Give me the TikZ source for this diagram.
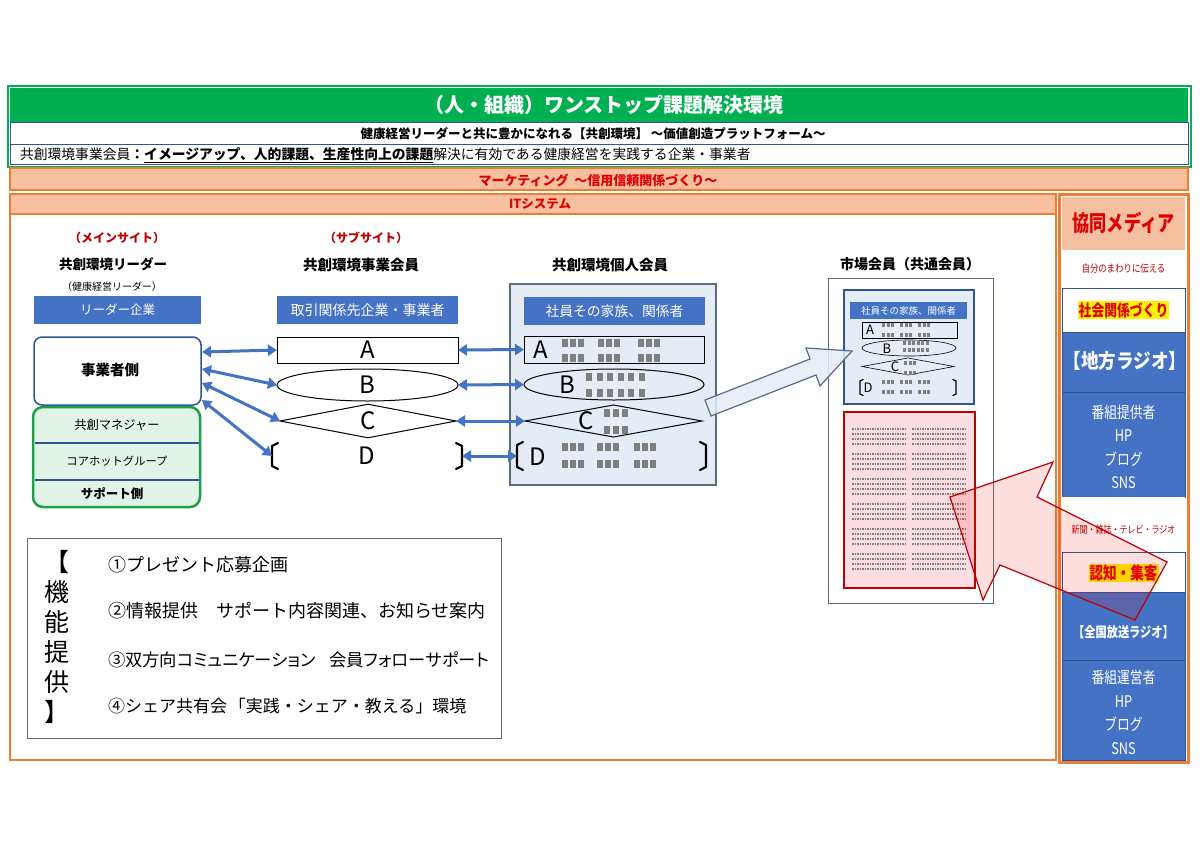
\documentclass[tikz,border=0pt]{standalone}
\usepackage{fontspec}
\setmainfont{Noto Sans CJK JP}
\newfontfamily\paltfont{Noto Sans CJK JP}[RawFeature=+palt]
\usetikzlibrary{shapes.geometric,arrows.meta,calc}
\definecolor{tgreen}{HTML}{00B050}
\definecolor{tggreen}{HTML}{1EA04A}
\definecolor{torange}{HTML}{ED7D31}
\definecolor{tpeach}{HTML}{F6C0A0}
\definecolor{tblue}{HTML}{4472C4}
\definecolor{tdblue}{HTML}{2F5597}
\definecolor{tgrayblue}{HTML}{5B6B82}
\definecolor{tred}{HTML}{E00000}
\definecolor{tdred}{HTML}{C00000}
\definecolor{tlblue}{HTML}{E6ECF6}
\definecolor{tlgreen}{HTML}{E2F3E8}
\definecolor{tpink}{HTML}{FBDDE2}
\definecolor{tppl}{HTML}{7F7F7F}
\newcommand\fsz[1]{\fontsize{#1}{#1}\selectfont}
\newcommand\cnd[1]{\scalebox{0.8}[1]{#1}}
\newcommand\dbrk[3]{%
 \draw[brk,line width=#3] ($(#1.north west)+(#2,0)$) -- ($(#1.north west)+(0,#2/2)$) -- ($(#1.south west)+(0,-#2/2)$) -- ($(#1.south west)+(#2,0)$);
 \draw[brk,line width=#3] ($(#1.north east)+(-#2,0)$) -- ($(#1.north east)+(0,#2/2)$) -- ($(#1.south east)+(0,-#2/2)$) -- ($(#1.south east)+(-#2,0)$);}
\setlength{\fboxsep}{1pt}
\begin{document}
\begin{tikzpicture}[x=1pt,y=-1pt,
  every node/.style={inner sep=0pt, outer sep=0pt},
  bar/.style={draw=torange, fill=tpeach, line width=2pt, anchor=north west, text=tred, font=\fsz{12.5}\bfseries},
  rsec/.style={minimum width=123pt, minimum height=#1, anchor=north west},
  bluebox/.style={fill=tblue, text=white, minimum height=28pt},
  outl/.style={draw=black, line width=1pt},
  letter/.style={font=\fsz{24}},
  biarrow/.style={draw=tblue, line width=3pt, {Triangle[length=9pt,width=11pt]}-{Triangle[length=9pt,width=11pt]}},
  brk/.style={line join=round, line cap=round},
  ppl/.style={fill=tppl},
  grid/.style={draw=tppl, line width=2.8pt, dash pattern=on 1.6pt off 0.9pt},
  head/.style={font=\fsz{14.5}\bfseries},
  sub/.style={text=tdred, font=\fsz{12}\bfseries},
]
\useasboundingbox[fill=white] (0,0) rectangle (1200,849);

% ---------- header ----------
\node[draw=tgreen, line width=2pt, minimum width=1183pt, minimum height=81pt, anchor=north west] (hdr) at (8,86) {};
\node[fill=tgreen, minimum width=1178pt, minimum height=34pt, anchor=north west] (title) at (10,88) {};
\node[text=white, font=\fsz{20}\bfseries] (titlet) at (604,105) {（人・組織）ワンストップ課題解決環境};
\node[draw=tdblue, fill=white, line width=0.8pt, minimum width=1178pt, minimum height=22pt, anchor=north west] (l1) at (10,122) {};
\node[font=\fsz{12.5}\bfseries] (l1t) at (593,133.5) {健康経営リーダーと共に豊かになれる【共創環境】\ ～価値創造プラットフォーム～};
\node[draw=tdblue, fill=white, line width=0.8pt, minimum width=1178pt, minimum height=20pt, anchor=north west] (l2) at (10,144) {};
\node[anchor=west, font=\fsz{13.8}] (l2t) at (20,155) {共創環境事業会員\textbf{：\underline{イメージアップ、人的課題、生産性向上の課題}}解決に有効である健康経営を実践する企業・事業者};

% ---------- bars ----------
\node[bar, minimum width=1178pt, minimum height=22pt] (mk) at (10,168) {};
\node[text=tred, font=\fsz{13}\bfseries] (mkt) at (598,180) {マーケティング\ \ ～信用信頼関係づくり～};
\node[draw=torange, line width=2pt, minimum width=1046pt, minimum height=546pt, anchor=north west] (main) at (10,214) {};
\node[bar, minimum width=1046pt, minimum height=20pt] (it) at (10,194) {};
\node[text=tred, font=\fsz{12.5}\bfseries] (itt) at (540,204) {ITシステム};

% ---------- right column ----------
\node[rsec=53pt, fill=tpeach] (r1) at (1062,197) {};
\node[text=tred, font=\fsz{22}\bfseries] (r1t) at (1123.5,223) {\scalebox{0.78}[1]{協同メディア}};
\node[rsec=38pt, fill=white] (r2) at (1062,250) {};
\node[text=tdred, font=\fsz{10.5}] (r2t) at (1123.5,269) {\cnd{自分のまわりに伝える}};
\node[rsec=44pt, fill=white, draw=tdblue, line width=0.8pt] (r3) at (1062,288) {};
\node[text=tred, font=\fsz{16}\bfseries] (r3t) at (1123.5,310) {\colorbox{yellow}{\cnd{社会関係づくり}}};
\node[rsec=60pt, fill=tblue, draw=tdblue, line width=0.8pt] (r4) at (1062,332) {};
\node[text=white, font=\fsz{20}\bfseries] (r4t) at (1125,361) {\scalebox{0.88}[1]{【地方ラジオ】}};
\node[rsec=105pt, fill=tblue, draw=tdblue, line width=0.8pt] (r5) at (1062,392) {};
\node[text=white, font=\fontsize{16}{23.5}\selectfont, align=center] (r5t) at (1123.5,447) {\cnd{番組提供者}\\\cnd{HP}\\\cnd{ブログ}\\\cnd{SNS}};
\node[rsec=55pt, fill=white] (r6) at (1062,497) {};
\node[text=tdred, font=\fsz{10}] (r6t) at (1123.5,530) {\cnd{新聞・雑誌・テレビ・ラジオ}};
\node[rsec=40pt, fill=white, draw=tdblue, line width=0.8pt] (r7) at (1062,552) {};
\node[text=tred, font=\fsz{17}\bfseries] (r7t) at (1123.5,573) {\colorbox{yellow}{\cnd{認知・集客}}};
\node[rsec=68pt, fill=tblue, draw=tdblue, line width=0.8pt] (r8) at (1062,592) {};
\node[text=white, font=\fsz{14}\bfseries] (r8t) at (1123.5,632) {\cnd{【全国放送ラジオ】}};
\node[rsec=100pt, fill=tblue, draw=tdblue, line width=0.8pt] (r9) at (1062,660) {};
\node[text=white, font=\fontsize{16}{23.5}\selectfont, align=center] (r9t) at (1123.5,712.5) {\cnd{番組運営者}\\\cnd{HP}\\\cnd{ブログ}\\\cnd{SNS}};
\node[draw=torange, line width=3pt, minimum width=129pt, minimum height=568pt, anchor=north west] (rc) at (1059,194) {};

% ---------- main site ----------
\node[sub] (ms) at (117,238) {（メインサイト）};
\node[head, font=\fsz{13.5}\bfseries] (kl) at (113,264) {共創環境リーダー};
\node[font=\fsz{10}] (kk) at (112,287) {（健康経営リーダー）};
\node[bluebox, minimum width=167pt, font=\fsz{12.5}] (lk) at (117.5,310) {リーダー企業};
\node[draw=tdblue, rounded corners=8pt, line width=1.5pt, minimum width=167pt, minimum height=68pt] (jg) at (117.5,371) {};
\node[font=\fsz{14.5}\bfseries] (jgt) at (110,370) {事業者側};
\node[draw=tggreen, fill=tlgreen, rounded corners=10pt, line width=2.5pt, minimum width=167pt, minimum height=100pt] (sp) at (116.5,457) {};
\draw[tdblue, line width=1.2pt] ($(sp.west)+(1.5,-14)$) -- ($(sp.east)+(-1.5,-14)$);
\draw[tdblue, line width=1.2pt] ($(sp.west)+(1.5,23)$) -- ($(sp.east)+(-1.5,23)$);
\node[font=\fsz{12.3}] (km1) at (117,425) {共創マネジャー};
\node[font=\fsz{11.3}] (km2) at (117,461) {コアホットグループ};
\node[font=\fsz{12.5}\bfseries] (km3) at (112,494) {サポート側};

% ---------- sub site ----------
\node[sub] (ss) at (366,238) {（サブサイト）};
\node[head] (sj) at (361,265) {共創環境事業会員};
\node[bluebox, minimum width=181pt, font=\fsz{14}] (tk) at (367.5,310) {取引関係先企業・事業者};
\node[outl, letter, minimum width=181pt, minimum height=26pt] (sA) at (367.5,350) {A};
\node[outl, letter, ellipse, minimum width=181pt, minimum height=32pt] (sB) at (367.5,385) {B};
\node[outl, letter, diamond, minimum width=176pt, minimum height=32pt] (sC) at (368,421) {C};
\node[letter, minimum width=190pt, minimum height=26pt] (sD) at (367,456) {D};
\dbrk{sD}{6}{2.2pt}

% ---------- individual members ----------
\node[head] (ik) at (610,265) {共創環境個人会員};
\node[draw=tgrayblue, fill=tlblue, line width=1.2pt, minimum width=206pt, minimum height=201pt] (ib) at (613,384.5) {};
\node[bluebox, minimum width=181pt, font=\fsz{13.8}] (is) at (614.5,311) {社員その家族、関係者};
\node[outl, minimum width=180pt, minimum height=27pt] (iA) at (614,349.5) {};
\node[outl, ellipse, minimum width=180pt, minimum height=31pt] (iB) at (614,384.5) {};
\node[outl, diamond, minimum width=177pt, minimum height=32pt] (iC) at (613.5,421) {};
\node[minimum width=189pt, minimum height=28pt] (iD) at (611.5,456) {};
\dbrk{iD}{6}{2.2pt}
\node[letter] (iAt) at (541,350) {A};
\node[letter] (iBt) at (567,385) {B};
\node[letter] (iCt) at (586,421) {C};
\node[letter] (iDt) at (538,457) {D};
\foreach \xx in {562,570,578,598,606,614,638,646,654} \foreach \yy in {339,354} \fill[ppl] (\xx,\yy) rectangle ++(6,8);
\foreach \xx in {586,596.5,607,617.5,628,638.5} \foreach \yy in {373,389} \fill[ppl] (\xx,\yy) rectangle ++(6,8);
\foreach \xx in {604,613,622} \foreach \yy in {409,426} \fill[ppl] (\xx,\yy) rectangle ++(6,8);
\foreach \xx in {562,570,578,597,605,613,634,642,650} \foreach \yy in {443,460} \fill[ppl] (\xx,\yy) rectangle ++(6,8);

% ---------- market members ----------
\node[head, font=\fsz{14}\bfseries] (mt) at (910,264) {市場会員（共通会員）};
\node[draw=tgrayblue, line width=1pt, minimum width=165pt, minimum height=325pt] (mo) at (910.5,440.5) {};
\node[draw=tdblue, fill=tlblue, line width=1.5pt, minimum width=130pt, minimum height=114pt] (mi) at (909,347) {};
\node[bluebox, minimum width=117pt, minimum height=17pt, font=\fsz{9.5}] (mis) at (908.5,310.5) {社員その家族、関係者};
\node[draw=black, line width=0.6pt, minimum width=95pt, minimum height=16pt] (mA) at (909.5,330) {};
\node[draw=black, line width=0.6pt, ellipse, minimum width=94pt, minimum height=16pt] (mB) at (909,348) {};
\node[draw=black, line width=0.6pt, diamond, minimum width=92pt, minimum height=17pt] (mC) at (908,366.5) {};
\node[minimum width=96pt, minimum height=16pt] (mD) at (908,387.5) {};
\dbrk{mD}{3}{1.3pt}
\node[font=\fsz{13}] (mAt) at (870,330) {A};
\node[font=\fsz{13}] (mBt) at (887,349) {B};
\node[font=\fsz{13}] (mCt) at (895,367) {C};
\node[font=\fsz{13}] (mDt) at (868,388) {D};
\foreach \xx in {882,886.5,891,900,904.5,909,918,922.5,927} \foreach \yy in {323,333} \fill[ppl] (\xx,\yy) rectangle ++(3,3.5);
\foreach \xx in {903,907.5,912,916.5,921,925.5} \foreach \yy in {341,348} \fill[ppl] (\xx,\yy) rectangle ++(3,3.5);
\foreach \xx in {904,908.5,913} \foreach \yy in {361,371} \fill[ppl] (\xx,\yy) rectangle ++(3,3.5);
\foreach \xx in {882,886.5,891,900,904.5,909,918,922.5,927} \foreach \yy in {380,390} \fill[ppl] (\xx,\yy) rectangle ++(3,3.5);
\node[draw=tdred, fill=tpink, line width=1.2pt, minimum width=131pt, minimum height=176pt] (mp) at (909.5,500) {};
\foreach \g in {0,...,5} \foreach \r in {0,...,3} {
  \draw[grid] (852,{429+\g*25+\r*5}) -- (906,{429+\g*25+\r*5});
  \draw[grid] (912,{429+\g*25+\r*5}) -- (966,{429+\g*25+\r*5});
}

% blue block arrow
\draw[draw=tgrayblue!80!tblue, fill=tlblue, fill opacity=0.85, line width=1.2pt, line join=miter]
  (705,400) -- (810,359) -- (806,348) -- (852,351) -- (820,386) -- (816,375) -- (711,416) -- cycle;

% ---------- function box ----------
\node[draw=tgrayblue, line width=1pt, minimum width=474pt, minimum height=200pt] (fb) at (264.5,638) {};
\node[font=\fontsize{25}{30}\selectfont, align=center] (kn) at (57,637) {【\\機\\能\\提\\供\\】};
\node[anchor=west, font=\fsz{18}] (f1) at (108,565) {①プレゼント応募企画};
\node[anchor=west, font=\fsz{18}] (f2) at (108,611) {②情報提供\hspace{18pt}サポート内容関連、お知らせ案内};
\node[anchor=west, font=\paltfont\fsz{17.3}] (f3) at (108,660) {③双方向コミュニケーション\hspace{14pt}会員フォローサポート};
\node[anchor=west, font=\fsz{17}] (f4) at (108,706) {④シェア共有会\hspace{2pt}「実践・シェア・教える」環境};

% ---------- connectors ----------
\draw[biarrow] ($(jg.east)+(1,-19)$) -- (sA.west);
\draw[biarrow] ($(jg.east)+(1,-2)$) -- (sB.west);
\draw[biarrow] ($(jg.east)+(1,12)$) -- (sC.west);
\draw[biarrow] ($(jg.east)+(1,29)$) -- (sD.west);
\draw[biarrow] (sA.east) -- (iA.west);
\draw[biarrow] (sB.east) -- (iB.west);
\draw[biarrow] (sC.east) -- (iC.west);
\draw[biarrow] (sD.east) -- (iD.west);

% red block arrow
\draw[draw=tdred, fill=red, fill opacity=0.13, line width=1.2pt, line join=miter]
  (950,497) -- (1053,462) -- (1037,497) -- (1167,562) -- (1135,620) -- (1000,565) -- (983,600) -- cycle;
\end{tikzpicture}
\end{document}
